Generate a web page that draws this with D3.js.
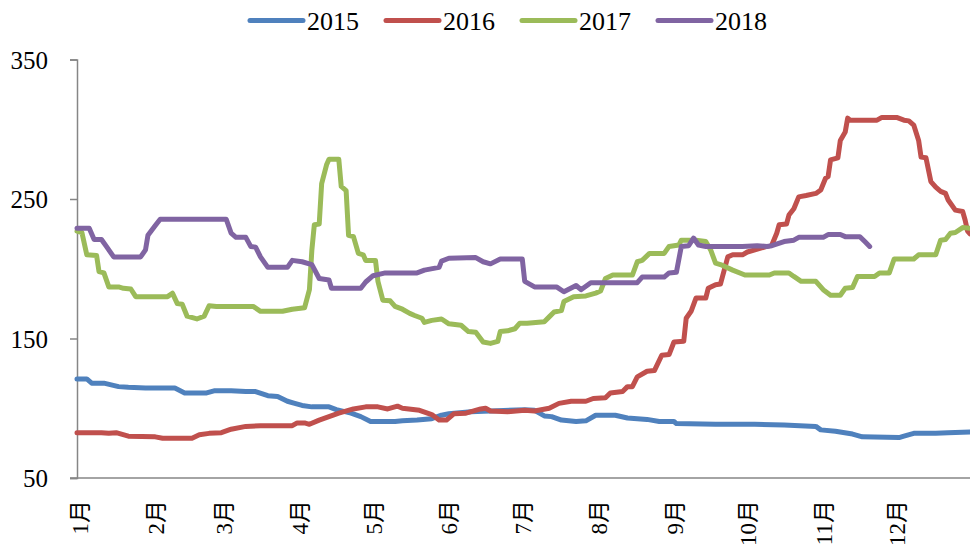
<!DOCTYPE html>
<meta charset="utf-8">
<head>
    <style>
        *{ padding: 0; margin: 0; }
        body{ background: #fff; }
        svg{ display: block; }
        .axis text{ font-family: "Liberation Serif", "Times New Roman", "Noto Sans CJK SC", serif; fill: #000; }
    </style>
</head>
<body>
    <svg id="chart" width="970" height="545"></svg>

    <script src="https://cdn.jsdelivr.net/npm/d3@7/dist/d3.min.js"></script>
    <script>
        // 系列名 / 颜色
        var years = ["2015", "2016", "2017", "2018"];
        var colors = ["#4F81BD", "#C0504D", "#9BBB59", "#8064A2"];

        // 月份标签, 每月第一天的日序
        var monthLabels = ["1月","2月","3月","4月","5月","6月","7月","8月","9月","10月","11月","12月"];
        var monthStart = [0, 31, 59, 90, 120, 151, 181, 212, 243, 273, 304, 334];
        var yTicks = [50, 150, 250, 350];

        // [日序, 数值]
        var s2015 = [[0,121],[4,121],[6,118],[11,118],[17,115.5],[21,115],[28,114.5],[40,114.5],[44,111],[53,111],
            [56,112.5],[63,112.5],[69,112],[73,112],[78,109],[82,108.5],[86,105],[89,103.5],[92,102],[96,101],
            [103,101],[106,99],[112,96.5],[116,94],[120,90.5],[130,90.5],[133,91],[139,91.5],[145,92.5],[149,95],
            [152,96],[161,97.5],[183,99],[187,98.5],[191,94.5],[194,94],[198,91.5],[204,90.5],[208,91],[212,95],
            [220,95],[225,93],[233,92],[238,90.5],[244,90.5],[245,89],[261,88.5],[277,88.5],[289,88],[302,87],
            [304,84.5],[310,83.5],[317,81.5],[321,79.5],[336,79],[338,80],[342,82],[351,82],[356,82.5],[365,83]];

        var s2016 = [[0,82.5],[10,82.5],[13,82],[16,82.5],[21,80],[32,79.5],[35,78.5],[47,78.5],[50,81],[54,82],
            [59,82.5],[63,85],[69,87],[75,87.5],[88,87.5],[90,89.5],[93,89.5],[95,88.5],[99,91.5],[103,94],
            [107,96.5],[113,99.5],[118,101],[123,101],[127,99.5],[131,101.5],[133,100],[140,98.5],[145,95.5],[148,91.5],
            [151,91.5],[154,96],[159,96.5],[165,99.5],[167,100],[169,98],[176,97.5],[183,98.5],[187,98],[193,100],
            [197,103.5],[202,105],[208,105],[211,107],[216,107.5],[218,111],[223,112],[225,115.5],[227,115.5],[229,122.5],
            [233,126.5],[236,127],[239,138],[242,138.5],[244,147.5],[248,148],[249,164.5],[251,169.5],[253,179],[257,179],
            [258,186],[261,188.5],[263,189],[266,208.5],[268,210],[272,210],[274,212],[282,216],[284,217],[286,225.5],
            [287,231.5],[290,232],[291,238.5],[293,243],[295,251.5],[298,252.5],[302,254],[304,256.5],[306,265],[307,266],
            [308,278],[311,279.5],[312,292],[314,298],[315,308],[316,306.5],[327,306.5],[329,308.5],[335,308.5],[338,306.5],
            [340,306],[342,303],[344,292],[345,280],[347,279.5],[349,262.5],[351,258.5],[353,255.5],[355,254],[356,249.5],
            [359,242],[362,241],[363,235],[364,227],[365,225]];

        var s2017 = [[0,227],[2,226],[4,210],[8,209.5],[9,198],[11,197],[13,187],[17,187],[19,186],[22,185.5],
            [24,180],[37,180],[39,182.5],[41,175],[43,174.5],[45,166],[49,164],[52,166],[54,173.5],[57,173],
            [72,173],[75,169.5],[84,169.5],[88,171],[93,172],[95,185],[96,213.5],[97,231.5],[99,232],[100,261],
            [102,274.5],[103,278.5],[107,278.5],[108,259],[110,256],[111,224],[113,223],[115,211],[117,210],[118,206],
            [122,206],[123,191],[125,177.5],[128,177],[130,173],[133,171],[136,168],[138,166.5],[141,164.5],[142,161.5],
            [145,163],[149,164],[152,160.5],[157,159.5],[160,155],[163,154.5],[166,147.5],[169,146.5],[172,148],[173,155],
            [176,155.5],[179,157],[181,161],[184,161],[191,162],[193,165.5],[195,169],[198,170],[199,176.5],[203,180],
            [208,180.5],[212,182.5],[214,184],[216,193],[219,195.5],[227,195.5],[229,205],[231,206],[234,211],[240,211],
            [242,216],[246,217],[247,220.5],[253,220.5],[257,219.5],[259,213.5],[261,204],[263,203],[268,199],[273,195.5],
            [283,195.5],[285,197],[291,197],[293,194.5],[296,191],[302,191],[305,185],[308,181],[312,181],[314,186],
            [317,186.5],[319,194.5],[326,194.5],[328,197],[332,197],[334,207],[342,207],[344,210],[351,210],[353,220.5],
            [355,221],[357,225.5],[359,226],[362,229.5],[365,229]];

        var s2018 = [[0,229],[5,229],[7,221],[10,221],[12,216],[15,208.5],[26,208.5],[28,213.5],[29,224],[32,231],
            [34,235.5],[61,235.5],[63,225.5],[65,222.5],[69,222.5],[71,216],[73,215.5],[75,208.5],[78,201],[86,201],
            [88,206],[92,205],[96,203],[99,193],[103,192],[104,186],[116,186],[118,190.5],[121,195],[126,197],
            [139,197],[142,199],[148,201],[149,205.5],[152,207.5],[163,208],[166,205],[169,203.5],[173,207],[182,207],
            [183,191],[187,187],[196,187],[199,183.5],[204,188],[206,185],[210,190],[229,190],[231,194],[240,194],
            [242,197],[245,197.5],[247,216],[250,216.5],[252,222],[254,217],[257,216],[272,216],[278,216.5],[282,216],
            [284,216.5],[289,219.5],[293,220.5],[295,222.5],[305,222.5],[307,224.5],[312,224.5],[314,223],[320,223],[322,219.5],
            [324,216]];

        var seriesList = [s2015, s2016, s2017, s2018];

        var svg = d3.select("#chart");
        var mLeft = 77, mRight = 970, mTop = 59.5, mBottom = 478;

        var x = d3.scaleLinear().domain([0, 365]).range([mLeft, mRight]);
        var y = d3.scaleLinear().domain([50, 350]).range([mBottom, mTop]);

        // y轴
        var yAxis = svg.append("g")
            .attr("class", "axis")
            .attr("transform", "translate(" + mLeft + ",0)")
            .call(d3.axisLeft(y).tickValues(yTicks).tickSize(7).tickPadding(22).tickFormat(d3.format("d")));
        yAxis.select(".domain").attr("stroke", "#868686").attr("stroke-width", 1.5);
        yAxis.selectAll(".tick line").attr("stroke", "#868686").attr("stroke-width", 1.5);
        yAxis.selectAll("text").attr("font-size", 25).attr("dy", "0.35em");

        // x轴
        var xAxis = svg.append("g")
            .attr("class", "axis")
            .attr("transform", "translate(0," + mBottom + ")")
            .call(d3.axisBottom(x).tickValues(monthStart).tickSize(0).tickFormat(function(d, i) { return monthLabels[i]; }));
        xAxis.select(".domain").attr("stroke", "#868686").attr("stroke-width", 1.5)
            .attr("d", "M" + (mLeft - 7) + ",0H" + mRight);
        xAxis.selectAll("text")
            .attr("font-size", 23)
            .attr("text-anchor", "end")
            .attr("transform", "translate(2.5,0) rotate(-90)")
            .attr("x", -22)
            .attr("y", 0)
            .attr("dy", "0.35em");

        // 折线
        var line = d3.line()
            .x(function(d) { return x(d[0]); })
            .y(function(d) { return y(d[1]); });

        svg.append("g").selectAll("path")
            .data(seriesList)
            .enter().append("path")
            .attr("d", line)
            .attr("fill", "none")
            .attr("stroke", function(d, i) { return colors[i]; })
            .attr("stroke-width", 5)
            .attr("stroke-linejoin", "round")
            .attr("stroke-linecap", "round");

        // 图例
        var legend = svg.append("g").selectAll("g")
            .data(years)
            .enter().append("g")
            .attr("transform", function(d, i) { return "translate(" + (250 + i * 136) + ",20.5)"; });
        legend.append("line")
            .attr("x1", 0).attr("x2", 53)
            .attr("stroke", function(d, i) { return colors[i]; })
            .attr("stroke-width", 5)
            .attr("stroke-linecap", "round");
        legend.append("text")
            .attr("x", 57)
            .attr("dy", "0.35em")
            .attr("font-family", "'Liberation Serif', 'Times New Roman', serif")
            .attr("font-size", 26)
            .text(function(d) { return d; });
    </script>
</body>
